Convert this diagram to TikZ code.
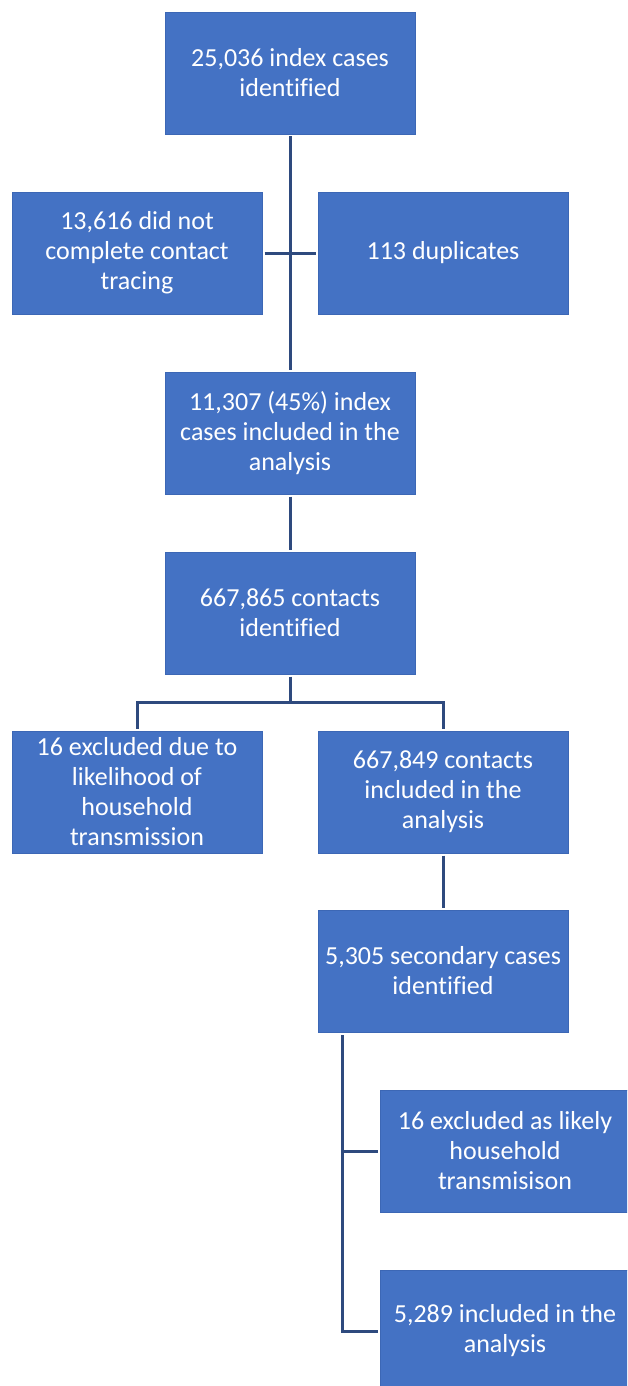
\documentclass[tikz,border=0pt]{standalone}
\usepackage{fontspec}
\setmainfont{Carlito}[Ligatures=NoCommon]
\usetikzlibrary{calc}
\definecolor{boxblue}{HTML}{4472C4}
\definecolor{boxedge}{HTML}{3C67B5}
\definecolor{linenavy}{HTML}{2E4A7E}
\tikzset{
  flowbox/.style={rectangle, fill=boxblue, draw=boxedge, line width=0.8pt,
    minimum width=250pt, minimum height=122pt, align=center,
    text=white, font=\fontsize{26}{30}\selectfont, inner sep=0pt, outer sep=2.5pt},
  conn/.style={draw=linenavy, line width=3pt}
}
\begin{document}
\begin{tikzpicture}[x=1pt,y=-1pt]
\useasboundingbox (0,0) rectangle (627,1386);
\clip (0,0) rectangle (627,1386);
\fill[white] (0,0) rectangle (627,1386);
\node[flowbox] (b1) at (290,73) {25,036 index cases\\identified};
\node[flowbox] (b2) at (137,253) {13,616 did not\\complete contact\\tracing};
\node[flowbox] (b3) at (443,253) {113 duplicates};
\node[flowbox] (b4) at (290,433) {11,307 (45\%) index\\cases included in the\\analysis};
\node[flowbox] (b5) at (290,613) {667,865 contacts\\identified};
\node[flowbox] (b6) at (137,792) {16 excluded due to\\likelihood of\\household\\transmission};
\node[flowbox] (b7) at (443,792) {667,849 contacts\\included in the\\analysis};
\node[flowbox] (b8) at (443,971) {5,305 secondary cases\\identified};
\node[flowbox] (b9) at (505,1151) {16 excluded as likely\\household\\transmisison};
\node[flowbox] (b10) at (505,1331) {5,289 included in the\\analysis};
\coordinate (j1) at (290,702);
\coordinate (t0) at (342,1035);
\draw[conn] (b1.south) -- (b4.north);
\draw[conn] (b2.east) -- (b3.west);
\draw[conn] (b4.south) -- (b5.north);
\draw[conn] (b5.south) -- (j1);
\draw[conn] (b6.north) |- (j1) -| (b7.north);
\draw[conn] (b7.south) -- (b8.north);
\draw[conn] (t0) |- (b10.west);
\draw[conn] (b9.west) -- (b9.west -| t0);
\end{tikzpicture}
\end{document}
